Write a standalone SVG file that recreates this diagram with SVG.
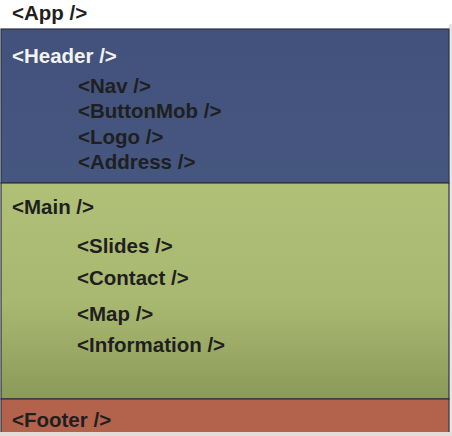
<svg xmlns="http://www.w3.org/2000/svg" width="452" height="436" viewBox="0 0 452 436">
<defs>
<style>
text{font-family:"Liberation Sans",Arial,sans-serif;font-weight:bold;font-size:20.5px;fill:#1f1f1f}
.w{fill:#f2f2f2}
.box{stroke:#2e3340;stroke-width:1.2}
</style>
<linearGradient id="gm" x1="0" y1="0" x2="0" y2="1">
<stop offset="0" stop-color="#b0c077"/>
<stop offset="0.55" stop-color="#a9b870"/>
<stop offset="1" stop-color="#8c9a5a"/>
</linearGradient>
<linearGradient id="gh" x1="0" y1="0" x2="0" y2="1">
<stop offset="0" stop-color="#42527c"/>
<stop offset="1" stop-color="#45567f"/>
</linearGradient>
</defs>
<rect x="0" y="0" width="452" height="436" fill="#ffffff"/>
<rect x="449" y="24" width="3" height="412" fill="#e6e6e6"/>
<g id="app">
<text x="12" y="20">&lt;App /&gt;</text>
</g>
<g id="header">
<rect class="box" x="1" y="29" width="448" height="154" fill="url(#gh)"/>
<text class="w" x="12" y="63">&lt;Header /&gt;</text>
</g>
<g id="nav"><text x="78" y="93">&lt;Nav /&gt;</text></g>
<g id="buttonmob"><text x="78" y="118">&lt;ButtonMob /&gt;</text></g>
<g id="logo"><text x="78" y="144">&lt;Logo /&gt;</text></g>
<g id="address"><text x="78" y="169">&lt;Address /&gt;</text></g>
<g id="main">
<rect class="box" x="1" y="183" width="448" height="216" fill="url(#gm)"/>
<text x="12" y="214">&lt;Main /&gt;</text>
</g>
<g id="slides"><text x="77" y="253">&lt;Slides /&gt;</text></g>
<g id="contact"><text x="77" y="285">&lt;Contact /&gt;</text></g>
<g id="map"><text x="77" y="321">&lt;Map /&gt;</text></g>
<g id="information"><text x="77" y="352">&lt;Information /&gt;</text></g>
<g id="footer">
<rect class="box" x="1" y="399" width="448" height="40" fill="#b3634b"/>
<text x="12" y="427">&lt;Footer /&gt;</text>
</g>
<g id="connectors"></g>
<rect x="0" y="432" width="452" height="4" fill="#e4dcd8"/>
</svg>
